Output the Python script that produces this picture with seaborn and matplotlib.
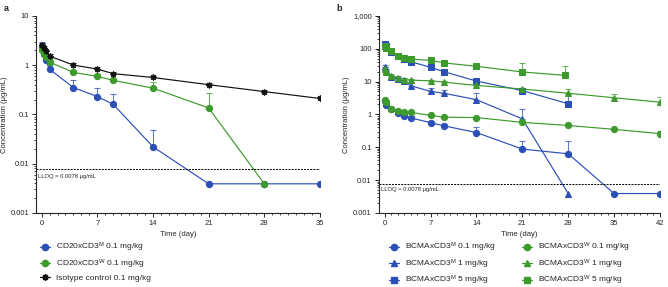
import numpy as np
import pandas as pd
import matplotlib
matplotlib.use("Agg")
import matplotlib.pyplot as plt
import seaborn as sns
from matplotlib.ticker import FuncFormatter, MultipleLocator, LogLocator, NullFormatter
from matplotlib.lines import Line2D

# ==============================
# DATA
# ==============================

# panel a
time_a = [0.08, 0.25, 0.5, 1, 4, 7, 9, 14, 21, 28, 35]
cd20_m = [2.4, 1.7, 1.25, 0.82, 0.35, 0.23, 0.16, 0.022, 0.0039, 0.0039, 0.0039]
cd20_m_top = [3.0, 2.2, 1.5, 1.0, 0.5, 0.35, 0.26, 0.048, np.nan, np.nan, np.nan]
cd20_w = [2.0, 1.7, 1.45, 1.15, 0.71, 0.59, 0.49, 0.34, 0.135, 0.0039]
cd20_w_top = [2.3, 1.9, 1.6, 1.3, 0.8, 0.66, 0.55, 0.45, 0.27, np.nan]
isotype = [2.55, 2.2, 1.9, 1.52, 1.0, 0.83, 0.67, 0.56, 0.40, 0.29, 0.21]
isotype_top = [2.8, 2.4, 2.05, 1.65, 1.08, 0.9, 0.73, 0.6, 0.44, 0.31, 0.22]

# panel b
time_b = [0.08, 0.25, 1, 2, 3, 4, 7, 9, 14, 21, 28, 35, 42]
time_b_w5 = [0.08, 0.25, 1, 2, 3, 4, 7, 9, 14, 21, 27.5]
bcma_m01 = [2.6, 1.95, 1.45, 1.1, 0.9, 0.78, 0.56, 0.45, 0.28, 0.088, 0.063, 0.0039, 0.0039]
bcma_m01_top = [3.0, 2.2, 1.6, 1.25, 1.0, 0.9, 0.62, 0.5, 0.42, 0.16, 0.15, np.nan, np.nan]
bcma_w01 = [2.7, 2.3, 1.5, 1.3, 1.17, 1.15, 0.93, 0.82, 0.80, 0.57, 0.46, 0.35, 0.26]
bcma_w01_top = [3.0, 2.5, 1.6, 1.4, 1.25, 1.2, 1.0, 0.9, 0.85, 0.62, 0.5, 0.38, 0.32]
bcma_m1 = [27.5, 21, 13.6, 11.8, 10.3, 7.4, 5.0, 4.4, 2.8, 0.73, 0.0039]
bcma_m1_top = [32, 24, 16, 14, 13, 9.5, 6.5, 5.5, 4.5, 1.5, np.nan]
bcma_w1 = [24.6, 20, 15, 13, 11.5, 11, 10.5, 9.6, 7.6, 5.9, 4.4, 3.2, 2.35]
bcma_w1_top = [27, 22, 17, 15, 13, 12, 11.5, 10.5, 8.5, 6.5, 5.8, 4.2, 3.3]
bcma_m5 = [143, 118, 79, 58, 47, 40, 27, 20, 10.3, 5.3, 2.1]
bcma_m5_top = [155, 128, 88, 63, 52, 44, 30, 22, 11.5, 6.2, 4.3]
bcma_w5 = [120, 105, 85, 58, 53, 48, 44, 37, 29, 19.5, 15.4]
bcma_w5_top = [135, 112, 92, 62, 57, 52, 48, 41, 35, 37, 30]

LLOQ = 0.0078

# ==============================
# CONFIGURATION
# ==============================

sns.set_style("ticks")
plt.rcParams["font.family"] = ["Liberation Sans", "DejaVu Sans"]
plt.rcParams["mathtext.fontset"] = "custom"
plt.rcParams["mathtext.rm"] = "Liberation Sans"
plt.rcParams["mathtext.it"] = "Liberation Sans:italic"
plt.rcParams["mathtext.bf"] = "Liberation Sans:bold"
plt.rcParams["font.size"] = 5.5

BLUE = "#2c4fb6"
GREEN = "#3d9a2c"
BLACK = "#111111"
FS = 5.5
FS_LEG = 6


def serie(ax, t, y, top, color, marker, ms=4.5):
    df = pd.DataFrame({"t": t, "y": y})
    sns.lineplot(data=df, x="t", y="y", ax=ax, color=color, marker=marker,
                 markersize=ms, markeredgecolor=color, linewidth=0.85,
                 sort=False, estimator=None, legend=False)
    top = np.array(top, dtype=float)
    y = np.array(y, dtype=float)
    ok = ~np.isnan(top)
    up = np.where(ok, top - y, 0)
    ax.errorbar(np.array(t)[ok], y[ok], yerr=[np.zeros(ok.sum()), up[ok]],
                fmt="none", ecolor=color, elinewidth=0.8, capsize=2,
                capthick=0.8, alpha=0.75, zorder=1)


def style_axes(ax, xmax, ymax, xlim0):
    ax.set_yscale("log")
    ax.set_ylim(0.001, ymax)
    ax.set_xlim(xlim0, xmax)
    ax.xaxis.set_major_locator(MultipleLocator(7))
    ax.xaxis.set_minor_locator(MultipleLocator(1))
    ax.yaxis.set_major_locator(LogLocator(base=10))
    ax.yaxis.set_minor_locator(LogLocator(base=10, subs=np.arange(2, 10)))
    ax.yaxis.set_minor_formatter(NullFormatter())
    ax.yaxis.set_major_formatter(FuncFormatter(
        lambda v, p: f"{v:,.0f}" if v >= 1 else f"{v:g}"))
    ax.tick_params(axis="both", which="major", length=3, width=0.7,
                   labelsize=FS, pad=2)
    ax.tick_params(axis="both", which="minor", length=1.6, width=0.6)
    for s in ["left", "bottom"]:
        ax.spines[s].set_linewidth(0.8)
    sns.despine(ax=ax)
    ax.set_xlabel("Time (day)", fontsize=FS, labelpad=3)
    ax.set_ylabel("Concentration (\u03bcg/mL)", fontsize=FS, labelpad=2)
    ax.axhline(LLOQ, color="black", linestyle=(0, (2, 1.2)), linewidth=0.7)
    ax.text(xlim0 + 0.3, LLOQ * 0.8, "LLOQ = 0.0078 \u03bcg/mL", fontsize=4.2,
            va="top", ha="left")


fig = plt.figure(figsize=(6.68, 2.87), dpi=100)
ax_a = fig.add_axes([0.054, 0.258, 0.425, 0.687])
ax_b = fig.add_axes([0.567, 0.258, 0.421, 0.687])

# ==============================
# PANEL A
# ==============================

serie(ax_a, time_a, cd20_m, cd20_m_top, BLUE, "o")
serie(ax_a, time_a[:10], cd20_w, cd20_w_top, GREEN, "o")
serie(ax_a, time_a, isotype, isotype_top, BLACK, (8, 1, 0), ms=4.5)
style_axes(ax_a, 35, 10, -0.7)

# ==============================
# PANEL B
# ==============================

serie(ax_b, time_b, bcma_m01, bcma_m01_top, BLUE, "o")
serie(ax_b, time_b[:11], bcma_m1, bcma_m1_top, BLUE, "^")
serie(ax_b, time_b[:11], bcma_m5, bcma_m5_top, BLUE, "s")
serie(ax_b, time_b, bcma_w01, bcma_w01_top, GREEN, "o")
serie(ax_b, time_b, bcma_w1, bcma_w1_top, GREEN, "^")
serie(ax_b, time_b_w5, bcma_w5, bcma_w5_top, GREEN, "s")
style_axes(ax_b, 42, 1000, -0.9)

fig.text(0.006, 0.985, "a", fontsize=6.5, fontweight="bold", va="top")
fig.text(0.503, 0.985, "b", fontsize=6.5, fontweight="bold", va="top")

# ==============================
# LEGENDS
# ==============================


def h(color, marker):
    return Line2D([], [], color=color, marker=marker, markersize=4.5,
                  linewidth=0.9)


leg_a = [h(BLUE, "o"), h(GREEN, "o"), h(BLACK, (8, 1, 0))]
lab_a = ["CD20xCD3$^{\\mathrm{M}}$ 0.1 mg/kg",
         "CD20xCD3$^{\\mathrm{W}}$ 0.1 mg/kg",
         "Isotype control 0.1 mg/kg"]
fig.legend(leg_a, lab_a, loc="upper left", bbox_to_anchor=(0.06, 0.16),
           frameon=False, fontsize=FS_LEG, handlelength=1.2, handletextpad=0.7,
           labelspacing=0.38, borderpad=0, borderaxespad=0)

leg_b = [h(BLUE, "o"), h(BLUE, "^"), h(BLUE, "s"),
         h(GREEN, "o"), h(GREEN, "^"), h(GREEN, "s")]
lab_b = ["BCMAxCD3$^{\\mathrm{M}}$ 0.1 mg/kg",
         "BCMAxCD3$^{\\mathrm{M}}$ 1 mg/kg",
         "BCMAxCD3$^{\\mathrm{M}}$ 5 mg/kg",
         "BCMAxCD3$^{\\mathrm{W}}$ 0.1 mg/kg",
         "BCMAxCD3$^{\\mathrm{W}}$ 1 mg/kg",
         "BCMAxCD3$^{\\mathrm{W}}$ 5 mg/kg"]
fig.legend(leg_b, lab_b, loc="upper left", bbox_to_anchor=(0.582, 0.16),
           ncol=2, frameon=False, fontsize=FS_LEG, handlelength=1.2,
           handletextpad=0.7, labelspacing=0.38, columnspacing=3.2,
           borderpad=0, borderaxespad=0)

fig.savefig("out.png", dpi=100)
